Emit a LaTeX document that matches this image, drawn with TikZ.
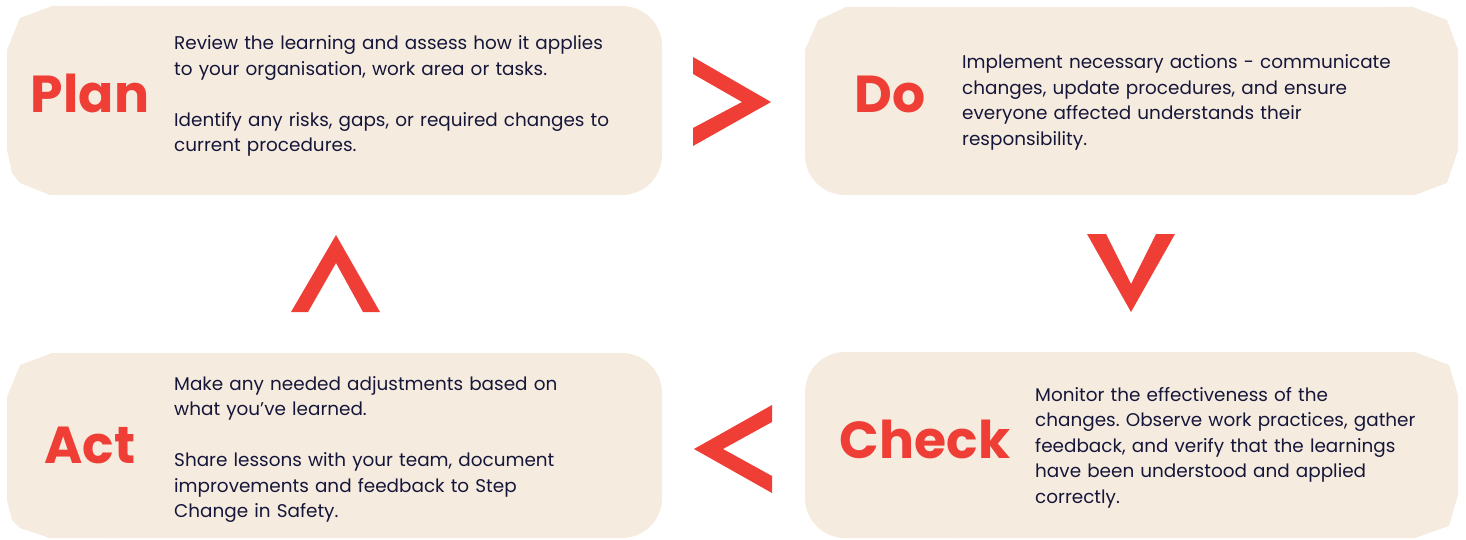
\documentclass[tikz,border=0pt]{standalone}
\usepackage{fontspec}
\setmainfont{Poppins}
\usepackage{tikz}

\definecolor{cardbg}{HTML}{F5ECDF}
\definecolor{chevred}{HTML}{EF3E36}
\definecolor{ink}{HTML}{16163A}

\frenchspacing

\begin{document}
\begin{tikzpicture}[x=1pt, y=-1pt]
                  \tikzstyle{card}=[fill=cardbg]
                  \tikzstyle{chev}=[fill=chevred]
                  \tikzstyle{title}=[font=\fontsize{52}{52}\selectfont\bfseries, text=chevred, anchor=base, inner sep=0pt]
                  \tikzstyle{body}=[font=\fontsize{18.4}{25.5}\selectfont, text=ink, anchor=base west, inner sep=0pt, text width=470pt, align=left]

                  \useasboundingbox (0,0) rectangle (1466,540);

                  \fill[card] (52,6) -- (20,18) -- (7,50) -- (7,150) -- (12,173) -- (20,183) -- (50,195) -- (120,195) -- (120,6) -- cycle;
                  \fill[card, rounded corners=40pt] (60,6) rectangle (662,195);

                  \fill[card] (846,7) -- (818,20) -- (805,50) -- (805,120) -- (900,120) -- (900,7) -- cycle;
                  \fill[card, rounded corners=40pt] (805,60) rectangle (900,195);
                  \fill[card] (860,7) rectangle (1400,195);
                  \fill[card] (1380,7) -- (1413,7) -- (1447,20) -- (1458,50) -- (1458,150) -- (1447,183) -- (1415,195) -- (1380,195) -- cycle;

                  \fill[card] (52,353) -- (20,365) -- (7,397) -- (7,500) -- (12,520) -- (20,528) -- (50,538) -- (120,538) -- (120,353) -- cycle;
                  \fill[card, rounded corners=40pt] (60,353) rectangle (662,538);

                  \fill[card, rounded corners=40pt] (805,352) rectangle (1000,538);
                  \fill[card] (950,352) -- (1415,352) -- (1449,365) -- (1458,395) -- (1458,495) -- (1449,526) -- (1415,538) -- (950,538) -- cycle;

                  \fill[chev] (693,57) -- (771,102) -- (693,146) -- (693,128) -- (742,102) -- (693,74) -- cycle;
                  \fill[chev] (1087,234) -- (1106,234) -- (1131,284) -- (1156,234) -- (1175,234) -- (1131,312) -- cycle;
                  \fill[chev] (772,405) -- (694,449) -- (772,493) -- (772,476) -- (723,449) -- (772,422) -- cycle;
                  \fill[chev] (291,312) -- (336,235) -- (380,312) -- (363,312) -- (336,263) -- (308,312) -- cycle;

                  \node[title] (plan) at (90,113) {Plan};
                  \node[title] (do) at (890,113) {Do};
                  \node[title] (act) at (90,463) {Act};
                  \node[title] (check) at (925,458) {Check};

                  \node[body] (plantext) at (174,50) {Review the learning and assess how it applies\\
                    to your organisation, work area or tasks.\\[25.5pt]
                    Identify any risks, gaps, or required changes to\\
                    current procedures.};
                  \node[body] (dotext) at (962,69) {Implement necessary actions - communicate\\
                    changes, update procedures, and ensure\\
                    everyone affected understands their\\
                    responsibility.};
                  \node[body] (acttext) at (174,390) {Make any needed adjustments based on\\
                    what you’ve learned.\\[25.5pt]
                    Share lessons with your team, document\\
                    improvements and feedback to Step\\
                    Change in Safety.};
                  \node[body] (checktext) at (1035,401) {Monitor the effectiveness of the\\
                    changes. Observe work practices, gather\\
                    feedback, and verify that the learnings\\
                    have been understood and applied\\
                    correctly.};
                \end{tikzpicture}
\end{document}
